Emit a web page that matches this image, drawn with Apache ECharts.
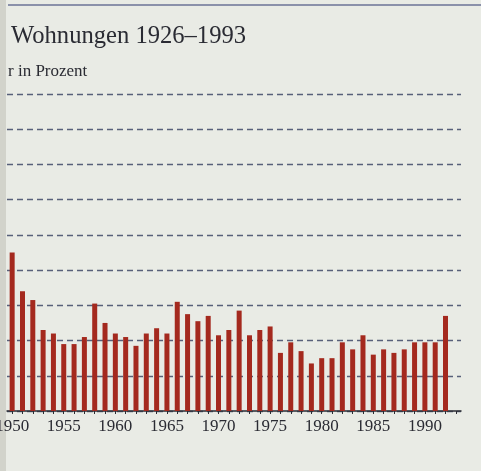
<!DOCTYPE html>
<html>
<head>
<meta charset="utf-8">
<script src="https://cdn.jsdelivr.net/npm/echarts@6/dist/echarts.min.js"></script>
<style>
  html, body { margin: 0; padding: 0; background: #e9ebe5; }
  #chart { width: 481px; height: 471px; }
</style>
</head>
<body>
<div id="chart"></div>
<script>
// years shown in the crop (1993 has no bar)
const years = ['1950','1951','1952','1953','1954','1955','1956','1957','1958','1959',
  '1960','1961','1962','1963','1964','1965','1966','1967','1968','1969',
  '1970','1971','1972','1973','1974','1975','1976','1977','1978','1979',
  '1980','1981','1982','1983','1984','1985','1986','1987','1988','1989',
  '1990','1991','1992','1993'];

// values in Prozent, read against the dashed gridlines
const values = [4.5, 3.4, 3.15, 2.3, 2.2, 1.9, 1.9, 2.1, 3.05, 2.5,
  2.2, 2.1, 1.85, 2.2, 2.35, 2.2, 3.1, 2.75, 2.55, 2.7,
  2.15, 2.3, 2.85, 2.15, 2.3, 2.4, 1.65, 1.95, 1.7, 1.35,
  1.5, 1.5, 1.95, 1.75, 2.15, 1.6, 1.75, 1.65, 1.75, 1.95,
  1.95, 1.95, 2.7, null];

const labelYears = ['1950','1955','1960','1965','1970','1975','1980','1985','1990'];

const chart = echarts.init(document.getElementById('chart'));

const serif = '"Liberation Serif", "DejaVu Serif", serif';

const option = {
  animation: false,
  backgroundColor: '#e9ebe5',
  title: [
    {
      text: 'Wohnungen 1926–1993',
      left: 11,
      top: 24,
      padding: 0,
      textStyle: { fontFamily: serif, fontSize: 24.6, fontWeight: 'normal', color: '#2a2b33' }
    },
    {
      text: 'r in Prozent',
      left: 8,
      top: 63,
      padding: 0,
      textStyle: { fontFamily: serif, fontSize: 17, fontWeight: 'normal', color: '#2a2b33' }
    }
  ],
  graphic: [
    // page edge of the scan
    { type: 'rect', left: 0, top: 0, shape: { width: 6, height: 471 }, style: { fill: '#d2d3cb' }, z: -1 },
    // rule at the top
    { type: 'line', shape: { x1: 8, y1: 5, x2: 481, y2: 5 }, style: { stroke: '#6b7396', lineWidth: 1.5 } }
  ],
  grid: { left: 7, right: 20, top: 94, bottom: 60, containLabel: false, outerBoundsMode: 'none' },
  xAxis: {
    type: 'category',
    data: years,
    axisLine: { lineStyle: { color: '#2a2b33', width: 1.5 } },
    axisTick: { show: true, alignWithLabel: true, interval: 0, length: 3, lineStyle: { color: '#2a2b33' } },
    axisLabel: {
      interval: 0,
      formatter: v => labelYears.includes(v) ? v : '',
      fontFamily: serif,
      fontSize: 17,
      color: '#2a2b33',
      margin: 7
    },
    splitLine: { show: false }
  },
  yAxis: {
    type: 'value',
    min: 0,
    max: 9,
    interval: 1,
    axisLine: { show: false },
    axisTick: { show: false },
    axisLabel: { show: false },
    splitLine: { lineStyle: { type: [6, 4], color: '#58607a', width: 1.3 } }
  },
  series: [
    {
      type: 'bar',
      data: values,
      barWidth: 5,
      itemStyle: { color: '#a4291e' }
    }
  ]
};

chart.setOption(option);
</script>
</body>
</html>
